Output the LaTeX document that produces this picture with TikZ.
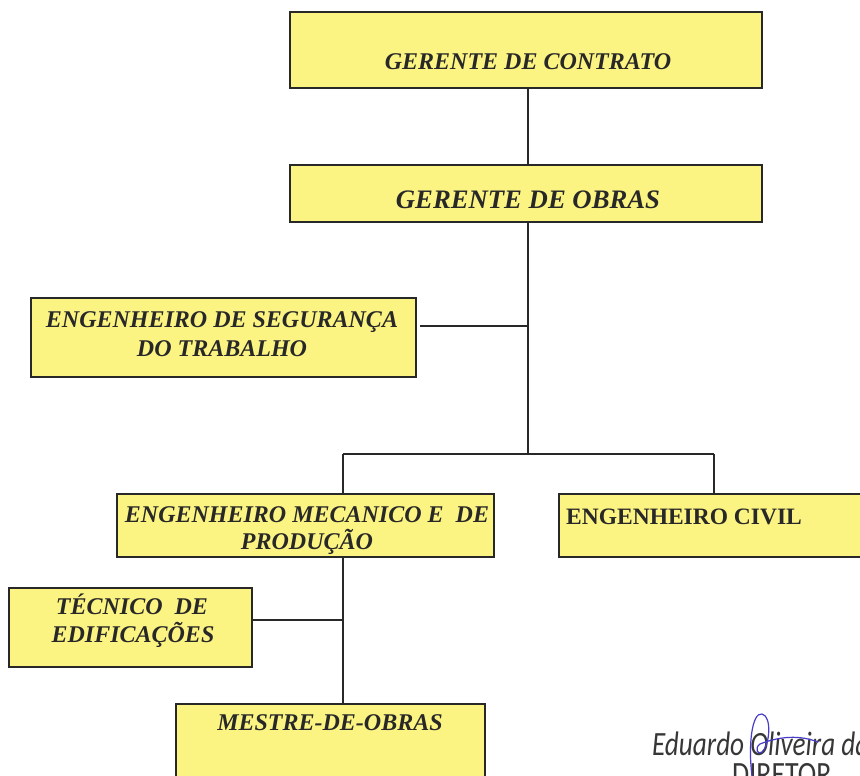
\documentclass[tikz,border=0pt]{standalone}
\usepackage{fontspec}
\setmainfont{Liberation Serif}
\newfontfamily\sigfont{Carlito}
\definecolor{boxfill}{RGB}{252,244,130}
\definecolor{ink}{RGB}{40,40,40}
\definecolor{sigink}{RGB}{55,55,55}
\definecolor{pen}{RGB}{70,60,200}
\newcommand\orgbox[5]{\node[box, minimum width={#4-#2}, minimum height={#5-#3}] (#1) at ({(#2+#4)/2},{(#3+#5)/2}) {};}
\begin{document}
\begin{tikzpicture}[x=1pt,y=-1pt,
  box/.style={draw=ink, fill=boxfill, line width=1.8pt, inner sep=0pt, outer sep=0pt},
  lbl/.style={anchor=base, inner sep=0pt, text=ink, font=\fontsize{24}{28}\selectfont\bfseries\itshape},
  lblup/.style={anchor=base west, inner sep=0pt, text=ink, font=\fontsize{23.5}{28}\selectfont\bfseries},
  conn/.style={draw=ink, line width=1.6pt}]
\useasboundingbox (0,0) rectangle (860,776);
\clip (0,0) rectangle (860,776);
\fill[white] (0,0) rectangle (860,776);
% boxes
\orgbox{contrato}{290}{12}{762}{88}
\orgbox{obras}{290}{165}{762}{222}
\orgbox{seg}{31}{298}{416}{377}
\orgbox{mec}{117}{494}{494}{557}
\orgbox{civil}{559}{494}{880}{557}
\orgbox{tec}{9}{588}{252}{667}
\orgbox{mestre}{176}{704}{485}{800}
% labels
\node[lbl] (tcontrato) at (528,70) {GERENTE DE CONTRATO};
\node[lbl, font=\fontsize{26.7}{30}\selectfont\bfseries\itshape] (tobras) at (528,208.5) {GERENTE DE OBRAS};
\node[lbl] (tseg1) at (222,327) {ENGENHEIRO DE SEGURANÇA};
\node[lbl] (tseg2) at (222,356) {DO TRABALHO};
\node[lbl] (tmec1) at (307,522) {ENGENHEIRO MECANICO E\ \ DE};
\node[lbl] (tmec2) at (307,549) {PRODUÇÃO};
\node[lblup] (tcivil) at (566,524) {ENGENHEIRO CIVIL};
\node[lbl] (ttec1) at (132,614) {TÉCNICO\ \ DE};
\node[lbl] (ttec2) at (133,642) {EDIFICAÇÕES};
\node[lbl] (tmestre) at (330,730) {MESTRE-DE-OBRAS};
% junction points
\coordinate (spine) at (528,0);
\coordinate (jseg) at (528,326);
\coordinate (jmain) at (528,454);
\coordinate (jmec) at (343,454);
\coordinate (jcivil) at (714,454);
\coordinate (jtec) at (343,620);
% connectors
\draw[conn] (contrato.south -| spine) -- (obras.north -| spine);
\draw[conn] (obras.south -| spine) -- (jmain);
\draw[conn] ([xshift=4pt]seg.east |- jseg) -- (jseg);
\draw[conn] (jmec) -- (jcivil);
\draw[conn] (jmec) -- (jmec |- mec.north);
\draw[conn] (jcivil) -- (jcivil |- civil.north);
\draw[conn] (jmec |- mec.south) -- (jmec |- mestre.north);
\draw[conn] (tec.east |- jtec) -- (jtec);
% signature
\node[anchor=base west, inner sep=0pt, text=sigink, font=\fontsize{34}{38}\selectfont\sigfont\itshape] (signame) at (652,755) {\scalebox{0.8}[1]{Eduardo Oliveira da}};
\node[anchor=base west, inner sep=0pt, text=sigink, font=\fontsize{34}{38}\selectfont\sigfont] (sigrole) at (732,785) {\scalebox{0.82}[1]{DIRETOR}};
\draw[pen, line width=1.2pt, line cap=round] (752,776) .. controls (748,745) and (752,712) .. (762,714)
  .. controls (772,716) and (770,745) .. (762,752) .. controls (758,756) and (754,748) .. (760,744)
  .. controls (780,736) and (800,735) .. (818,742);
\end{tikzpicture}
\end{document}
